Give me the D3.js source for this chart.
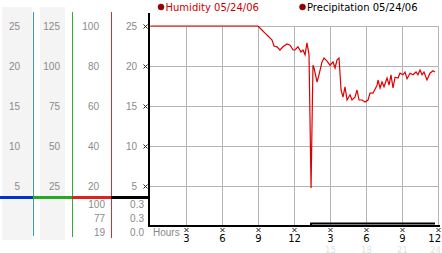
<!DOCTYPE html>
<html><head><meta charset="utf-8">
<script src="https://cdn.jsdelivr.net/npm/d3@7"></script>
<style>body{margin:0;background:#fff}svg{display:block}</style>
</head><body><svg id="c" width="442" height="253"></svg>
<script>
// ---- data ----
const humHours = [0,8.96,9.29,9.54,9.79,10.13,10.29,10.54,10.79,11.04,11.38,11.63,11.88,12.04,12.29,12.54,12.71,12.88,13.04,13.21,13.38,13.46,13.54,13.63,13.88,14.04,14.29,14.46,14.71,14.96,15.21,15.38,15.54,15.71,15.88,16.04,16.21,16.38,16.63,16.79,17.04,17.21,17.38,17.63,17.88,18.13,18.29,18.54,18.88,18.96,19.13,19.29,19.46,19.71,19.88,20.04,20.21,20.38,20.63,20.79,21.04,21.21,21.38,21.63,21.88,22.13,22.29,22.46,22.63,22.79,23.04,23.29,23.54,23.71];
const humValues = [25,25,24.5,24.1,23.75,23.25,22.5,22.4,22.0,22.4,22.75,22.6,22.0,22.0,22.4,21.75,22.0,21.4,22.9,21.4,4.75,12.6,20.1,19.75,18.0,18.9,20.5,21.0,20.6,20.1,20.5,19.75,20.75,21.0,17.0,16.1,17.4,15.75,16.4,15.75,16.1,17.0,15.75,15.75,15.5,15.75,16.6,16.6,17.6,18.25,17.25,18.0,17.4,18.5,17.6,18.9,17.25,18.6,18.5,19.1,18.9,19.25,18.4,19.1,18.9,19.25,18.9,19.5,18.9,19.25,18.25,19.1,19.4,19.25];
const precHours = [0,13.38,13.38,23.71];
const precValues = [0,0,0.3,0.3];
const col1Ticks = [5,10,15,20,25];
const col2Ticks = [25,50,75,100,125];
const col3Ticks = [20,40,60,80,100];
const col4Ticks = [5,10,15,20,25];
const col3Stats = ["100","77","19"];
const col4Stats = ["0.3","0.3","0.0"];
const hourTicks = [3,6,9,12,15,18,21,24];
const hourLabels = ["3","6","9","12","3","6","9","12"];
const hour24Ticks = [15,18,21,24];
const hour24Labels = ["15","18","21","24"];
const legendLabels = ["Humidity 05/24/06","Precipitation 05/24/06"];

// ---- drawing ----
const svg = d3.select("#c");
const x = d3.scaleLinear().domain([0,24]).range([150.5,438.5]);
const y = d3.scaleLinear().domain([0,25]).range([226,26]);
const y1 = d3.scaleLinear().domain([0,25]).range([226,26]);
const y2 = d3.scaleLinear().domain([0,125]).range([226,26]);
const y3 = d3.scaleLinear().domain([0,100]).range([226,26]);
const y4 = d3.scaleLinear().domain([0,25]).range([226,26]);
const numFont = "'Liberation Sans', Arial, sans-serif";
const legFont = "'DejaVu Sans', Verdana, sans-serif";

// left panel backgrounds
svg.append("rect").attr("x",2).attr("y",7).attr("width",30).attr("height",233).attr("fill","#f4f4f4");
svg.append("rect").attr("x",40).attr("y",7).attr("width",25).attr("height",233).attr("fill","#f4f4f4");

// vertical colored separators
[[33.5,"#3399cc",236],[72.5,"#33aa33",237],[111.5,"#cc3333",238]].forEach(([xx,c,b])=>{
  svg.append("line").attr("x1",xx).attr("x2",xx).attr("y1",12).attr("y2",b).attr("stroke",c).attr("stroke-width",1);
});

// grid
const g = svg.append("g").attr("shape-rendering","crispEdges");
g.selectAll("line.v").data(hourTicks).join("line")
  .attr("x1",d=>Math.floor(x(d))+0.5).attr("x2",d=>Math.floor(x(d))+0.5)
  .attr("y1",y(25)).attr("y2",y(0)).attr("stroke","#b4b4b4");
g.selectAll("line.h").data(col4Ticks).join("line")
  .attr("x1",149).attr("x2",Math.floor(x(24))+1)
  .attr("y1",d=>y(d)+0.5).attr("y2",d=>y(d)+0.5).attr("stroke","#b4b4b4");

// left tick labels
function colLabels(ticks, sc, xr){
  svg.append("g").selectAll("text").data(ticks).join("text")
    .attr("x",xr).attr("y",d=>sc(d)+4).attr("text-anchor","end")
    .attr("font-family",numFont).attr("font-size",10).attr("fill","#8a8a8a").text(d=>d);
}
colLabels(col1Ticks,y1,20);
colLabels(col2Ticks,y2,60);
colLabels(col3Ticks,y3,99);
colLabels(col4Ticks,y4,137);

// stats under columns
svg.append("g").selectAll("text").data(col3Stats).join("text")
  .attr("x",105).attr("y",(d,i)=>208+i*14).attr("text-anchor","end")
  .attr("font-family",numFont).attr("font-size",10).attr("fill","#8a8a8a").text(d=>d);
svg.append("g").selectAll("text").data(col4Stats).join("text")
  .attr("x",144).attr("y",(d,i)=>208+i*14).attr("text-anchor","end")
  .attr("font-family",numFont).attr("font-size",10).attr("fill","#8a8a8a").text(d=>d);

// colored horizontal legend bar
[[0,33,"#0033cc"],[33,72,"#22aa22"],[72,111,"#dd2222"],[111,149,"#000000"]].forEach(([a,b,c])=>{
  svg.append("rect").attr("x",a).attr("y",196).attr("width",b-a+1).attr("height",3).attr("fill",c);
});

// tick marks (small x glyphs)
function xmark(cx,cy){
  svg.append("path").attr("d",`M${cx-2},${cy-2}L${cx+2},${cy+2}M${cx+2},${cy-2}L${cx-2},${cy+2}`)
    .attr("stroke","#222").attr("stroke-width",1);
}
col4Ticks.forEach(d=>xmark(145.5,y(d)+0.5));
hourTicks.forEach(d=>xmark(Math.min(Math.floor(x(d))+0.5,438.5),230));

// axes lines
svg.append("rect").attr("x",148).attr("y",13).attr("width",2).attr("height",214).attr("fill","#000");
svg.append("rect").attr("x",148).attr("y",225).attr("width",Math.floor(x(24))+2-148).attr("height",2).attr("fill","#000");

// bottom labels
svg.append("text").attr("x",153).attr("y",236).attr("font-family",numFont).attr("font-size",10).attr("fill","#8a8a8a").text("Hours");
svg.append("g").selectAll("text").data(hourTicks).join("text")
  .attr("x",d=>d===24?441:x(d)).attr("y",242).attr("text-anchor",d=>d===24?"end":"middle")
  .attr("font-family",legFont).attr("font-size",10).attr("fill","#000").text((d,i)=>hourLabels[i]);
svg.append("g").selectAll("text").data(hour24Ticks).join("text")
  .attr("x",d=>d===24?441:x(d)).attr("y",252.5).attr("text-anchor",d=>d===24?"end":"middle")
  .attr("font-family",legFont).attr("font-size",8.5).attr("fill","#e2e2e2").text((d,i)=>hour24Labels[i]);

// series
const line = d3.line().x(d=>x(d[0])).y(d=>y(d[1]));
svg.append("path").datum(precHours.map((h,i)=>[h,precValues[i]]))
  .attr("d",d3.line().x(d=>x(d[0])).y(d=>y(d[1])))
  .attr("fill","none").attr("stroke","#000").attr("stroke-width",2);
svg.append("path").datum(humHours.map((h,i)=>[h,humValues[i]]))
  .attr("d",line).attr("fill","none").attr("stroke","#dd0000").attr("stroke-width",1.2);

// legend
const legX = [161,302.5];
const legC = ["#cc0000","#000000"];
legendLabels.forEach((t,i)=>{
  svg.append("circle").attr("cx",legX[i]).attr("cy",7).attr("r",3).attr("fill","#990000").attr("stroke","#550000").attr("stroke-width",0.5);
  svg.append("text").attr("x",legX[i]+4.5).attr("y",11).attr("font-family",legFont).attr("font-size",10)
    .attr("fill",legC[i]).text(t);
});
</script></body></html>
